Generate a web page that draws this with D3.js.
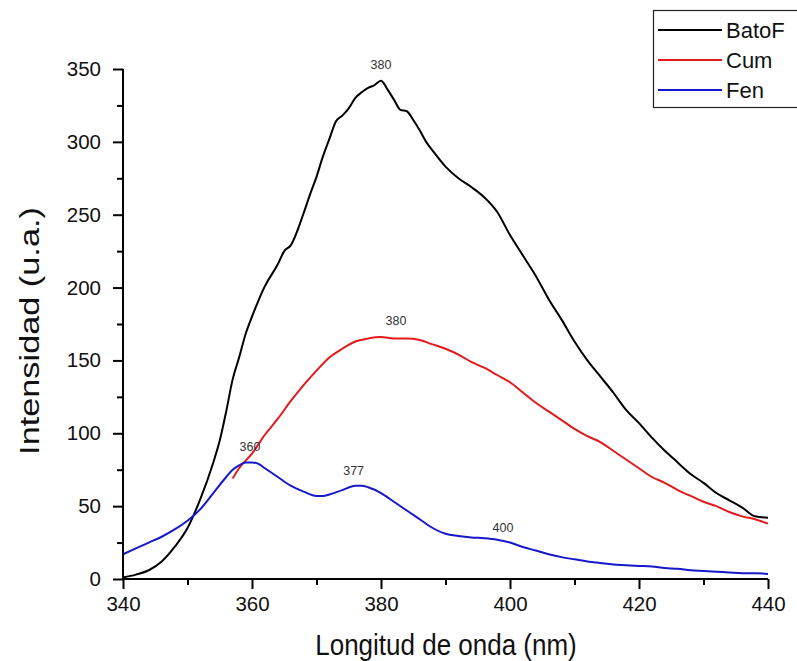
<!DOCTYPE html>
<html><head><meta charset="utf-8">
<script src="https://cdn.jsdelivr.net/npm/d3@7"></script>
<style>body{margin:0;background:#fff}svg{display:block}text{font-family:"Liberation Sans",Arial,sans-serif}</style>
</head><body><svg id="c" width="797" height="661"></svg>
<script>
const batoF = [[340,1],[342,3],[344,6],[346,12],[348,22],[350,35],[352,55],[354,80],[355,95],[356,115],[357,137],[358,152],[359,168],[360,180],[362,201],[364,216],[365,225],[366,229],[368,251],[369,264],[370,276],[371,290],[372,302],[373,314],[374,318],[375,323],[376,330],[377,334],[378,337],[379,339],[380,342],[381,336],[382,329],[383,322],[384,321],[385,315],[386,308],[387,300],[388,294],[390,283],[392,275],[394,269],[396,262],[398,252],[400,236],[402,222],[404,208],[406,192],[408,178],[410,163],[412,150],[414,139],[416,128],[418,116],[420,107],[422,97],[424,88],[426,80],[428,72],[430,66],[432,59],[434,54],[436,49],[438,43],[440,42]];
const cum = [[357,69],[358,76],[360,86],[362,99],[364,110],[366,122],[368,133],[370,143],[372,152],[374,158],[376,163],[378,165],[380,166],[382,165],[384,165],[386,164],[388,161],[390,158],[392,154],[394,149],[396,145],[398,140],[400,135],[402,128],[404,121],[406,115],[408,109],[410,103],[412,98],[414,94],[416,88],[418,82],[420,76],[422,70],[424,66],[426,61],[428,57],[430,53],[432,50],[434,46],[436,43],[438,41],[440,38]];
const fen = [[340,17],[342,21],[344,25],[346,29],[348,34],[350,40],[352,48],[354,59],[356,70],[357,75],[358,78],[359,80],[360,80],[361,79],[362,76],[364,70],[366,64],[368,60],[370,57],[371,57],[372,58],[374,61],[376,64],[377,64],[378,63],[380,59],[382,53],[384,47],[386,41],[388,35],[390,31],[392,29.5],[394,28.5],[396,28],[398,27],[400,25],[402,22],[404,19.5],[406,17],[408,15],[410,13.5],[412,12],[414,11],[416,10],[418,9.5],[420,9],[422,8.5],[424,7.5],[426,7],[428,6],[430,5.5],[432,5],[434,4.5],[436,4],[438,4],[440,3.5]];
const seriesNames = ["BatoF","Cum","Fen"];
const seriesColors = ["#000000","#e3191b","#1717cc"];
const xMajor = [340,360,380,400,420,440];
const xMinor = [350,370,390,410,430];
const yMajor = [0,50,100,150,200,250,300,350];
const yMinor = [25,75,125,175,225,275,325];
const annotations = [
  {x:380,y:342,t:"380",dx:0,dy:-12},
  {x:380,y:166,t:"380",dx:15,dy:-12},
  {x:360,y:80,t:"360",dx:-2,dy:-11},
  {x:377,y:64,t:"377",dx:-8,dy:-11},
  {x:400,y:25,t:"400",dx:-7,dy:-11}
];

const svg = d3.select("#c");
const x = d3.scaleLinear().domain([340,440]).range([123,768]);
const y = d3.scaleLinear().domain([0,350]).range([579,69]);

const line = d3.line().x(d=>x(d[0])).y(d=>y(d[1])).curve(d3.curveMonotoneX);
[batoF,cum,fen].forEach((s,i)=>{
  svg.append("path").datum(s).attr("d",line).attr("fill","none")
    .attr("stroke",seriesColors[i]).attr("stroke-width",2).attr("stroke-linejoin","round");
});

// axes
const gx = svg.append("g").attr("transform","translate(0,579)")
  .call(d3.axisBottom(x).tickValues(xMajor).tickFormat(d3.format("d")).tickSize(10).tickPadding(7));
svg.append("g").attr("transform","translate(0,579)")
  .call(d3.axisBottom(x).tickValues(xMinor).tickFormat("").tickSize(6))
  .call(g=>g.select(".domain").remove());
const gy = svg.append("g").attr("transform","translate(123,0)")
  .call(d3.axisLeft(y).tickValues(yMajor).tickFormat(d3.format("d")).tickSize(10).tickPadding(12));
svg.append("g").attr("transform","translate(123,0)")
  .call(d3.axisLeft(y).tickValues(yMinor).tickFormat("").tickSize(6))
  .call(g=>g.select(".domain").remove());
svg.selectAll("g").attr("font-size",null).attr("font-family",null);
svg.selectAll(".domain").attr("stroke","#000").attr("stroke-width",2);
svg.selectAll(".tick line").attr("stroke","#000").attr("stroke-width",2);
svg.selectAll(".tick text").style("font-size","20.5px").attr("fill","#111");
gx.selectAll(".domain").attr("d","M123,0H768");
gy.selectAll(".domain").attr("d","M0,69V579");

// annotations
annotations.forEach(a=>{
  svg.append("text").attr("x",x(a.x)+a.dx).attr("y",y(a.y)+a.dy)
    .attr("text-anchor","middle").style("font-size","12.5px").attr("fill","#333").text(a.t);
});

// titles
svg.append("text").attr("transform","translate(446,655) scale(1,1.12)").attr("text-anchor","middle")
  .style("font-size","26px").attr("fill","#111").text("Longitud de onda (nm)");
svg.append("text").attr("transform","translate(39,331) rotate(-90) scale(1.27,1)").attr("text-anchor","middle")
  .style("font-size","27px").attr("fill","#111").text("Intensidad (u.a.)");

// legend
const lg = svg.append("g");
lg.append("rect").attr("x",653.5).attr("y",10.5).attr("width",160).attr("height",97)
  .attr("fill","#fff").attr("stroke","#222").attr("stroke-width",1.2);
seriesNames.forEach((n,i)=>{
  const yy = 30 + i*30;
  lg.append("line").attr("x1",658).attr("x2",722).attr("y1",yy).attr("y2",yy)
    .attr("stroke",seriesColors[i]).attr("stroke-width",2);
  lg.append("text").attr("x",726).attr("y",yy+8).style("font-size","22px").attr("fill","#111").text(n);
});
</script></body></html>
